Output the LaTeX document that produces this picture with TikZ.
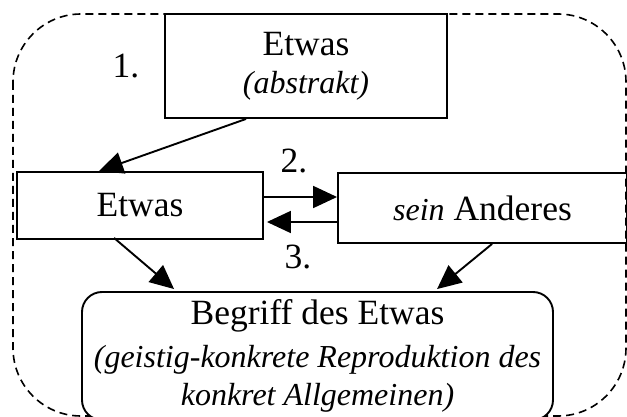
\documentclass[tikz,border=0pt]{standalone}
\usepackage{fontspec}
\setmainfont{Liberation Serif}
\usetikzlibrary{arrows.meta,calc}
\newcommand{\rmsz}{\fontsize{35.5}{38}\selectfont}
\newcommand{\itsz}[1]{{\fontsize{32}{38}\selectfont\itshape #1}}
\tikzset{
  box/.style={draw, line width=1.9pt, inner sep=0pt, align=center, font=\rmsz},
  conn/.style={line width=1.9pt, -{Triangle[length=24pt,width=22pt]}},
  lbl/.style={font=\rmsz, inner sep=0pt, anchor=base},
}
\begin{document}
\begin{tikzpicture}[x=1pt,y=-1pt]
\useasboundingbox (0,0) rectangle (627,417);
\draw[dash pattern=on 8pt off 5pt, line width=1.6pt, rounded corners=68pt] (13,14) rectangle (626,416);
\node[box, minimum width=282pt, minimum height=104pt, fill=white] (top) at (306,66) {Etwas\\\itsz{(abstrakt)}};
\node[box, minimum width=246pt, minimum height=67pt] (etwas) at (140,205.5) {Etwas};
\node[box, minimum width=289pt, minimum height=70pt] (anderes) at (482.5,208) {\itsz{sein} Anderes};
\node[box, rounded corners=20pt, minimum width=471pt, minimum height=128pt, fill=white] (begriff) at (317.5,356) {Begriff des Etwas\\[5pt]\itsz{(geistig-konkrete Reproduktion des}\\\itsz{konkret Allgemeinen)}};
\node[lbl] (l1) at (126,78) {1.};
\node[lbl] (l2) at (294,173) {2.};
\node[lbl] (l3) at (298,268) {3.};
\draw[conn] ($(top.south west)+(82,0)$) -- ($(etwas.north west)+(83,0)$);
\draw[conn] ($(etwas.east)+(0,-8.5)$) -- ($(anderes.west)+(0,-11)$);
\draw[conn] ($(anderes.west)+(0,14)$) -- ($(etwas.east)+(3,16.5)$);
\draw[conn] ($(etwas.south west)+(98,-2)$) -- ($(begriff.north west)+(93,-2)$);
\draw[conn] ($(anderes.south west)+(155,0)$) -- ($(begriff.north west)+(356,-2)$);
\end{tikzpicture}
\end{document}
